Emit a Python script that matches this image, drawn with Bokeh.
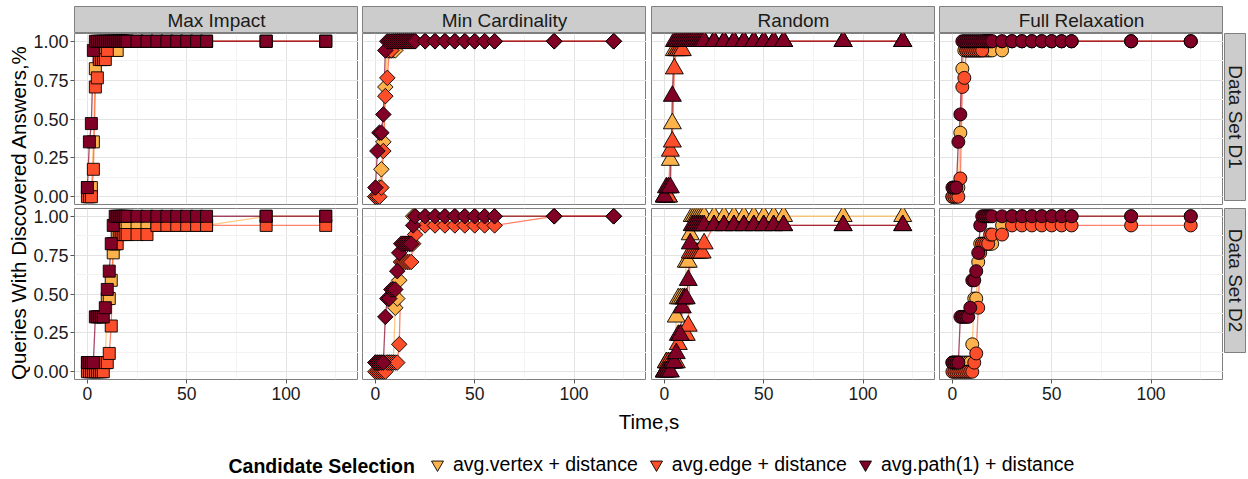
from math import pi, nan
from bokeh.plotting import figure
from bokeh.layouts import row, column
from bokeh.models import (Range1d, FixedTicker, Spacer, Label, Legend, LegendItem,
                          ColumnDataSource, PrintfTickFormatter)
from bokeh.embed import file_html
from bokeh.resources import INLINE

# ---------------- data ----------------
N_QUERIES = 17  # fraction = answered queries / 17
times = list(range(0, 21)) + [25, 30, 35, 40, 45, 50, 55, 60, 90, 120]

strategies = ["Max Impact", "Min Cardinality", "Random", "Full Relaxation"]
datasets = ["Data Set D1", "Data Set D2"]
selections = ["avg.vertex + distance", "avg.edge + distance", "avg.path(1) + distance"]
sel_colors = ["#FEB24C", "#FC4E2A", "#800026"]
x_ticks = [0, 50, 100]
y_ticks = [0.0, 0.25, 0.5, 0.75, 1.0]

# answered-query counts per time value (D1)
mi_d1_vertex = [1,1,1,6,14,16,16,16,16,16,16,16,16,16,16,16,17,17,17,17,17, 17,17,17,17,17,17,17,17,17,17]
mi_d1_edge   = [0,0,0,3,12,13,15,15,15,15,16,17,17,17,17,17,17,17,17,17,17, 17,17,17,17,17,17,17,17,17,17]
mi_d1_path   = [1,6,8,16,17,17,17,17,17,17,17,17,17,17,17,17,17,17,17,17,17, 17,17,17,17,17,17,17,17,17,17]

mc_d1_vertex = [0,0,1,3,6,12,16,16,16,16,16,17,17,17,17,17,17,17,17,17,17, 17,17,17,17,17,17,17,17,17,17]
mc_d1_edge   = [0,0,0,1,5,11,13,16,16,17,17,17,17,17,17,17,17,17,17,17,17, 17,17,17,17,17,17,17,17,17,17]
mc_d1_path   = [1,5,7,7,9,16,17,17,17,17,17,17,17,17,17,17,17,17,17,17,17, 17,17,17,17,17,17,17,17,17,17]

ra_d1_vertex = [0,0,0,4,8,16,17,17,17,17,17,17,17,17,17,17,17,17,17,17,17, 17,17,17,17,17,17,17,17,17,17]
ra_d1_edge   = [0,0,0,5,6,14,16,16,16,16,17,17,17,17,17,17,17,17,17,17,17, 17,17,17,17,17,17,17,17,17,17]
ra_d1_path   = [0,1,1,1,11,17,17,17,17,17,17,17,17,17,17,17,17,17,17,17,17, 17,17,17,17,17,17,17,17,17,17]

fr_d1_vertex = [0,1,1,1,7,14,16,16,16,16,16,16,16,16,16,16,16,16,16,16,16, 16,17,17,17,17,17,17,17,17,17]
fr_d1_edge   = [0,0,0,0,2,12,13,16,16,16,16,16,16,16,16,16,17,17,17,17,17, 17,17,17,17,17,17,17,17,17,17]
fr_d1_path   = [1,1,1,6,9,17,17,17,17,17,17,17,17,17,17,17,17,17,17,17,17, 17,17,17,17,17,17,17,17,17,17]

# answered-query counts per time value (D2)
mi_d2_vertex = [1,1,1,1,1,1,1,1,1,1,8,8,10,13,14,15,16,16,16,16,16, 16,16,16,16,16,16,16,16,17,17]
mi_d2_edge   = [0,0,0,0,0,0,0,0,0,1,1,2,5,14,14,14,15,15,15,15,15, 15,15,16,16,16,16,16,16,16,16]
mi_d2_path   = [1,1,1,1,6,6,6,6,6,7,9,11,14,16,17,17,17,17,17,17,17, 17,17,17,17,17,17,17,17,17,17]

mc_d2_vertex = [1,1,1,1,1,1,1,1,1,1,7,8,10,12,14,14,14,14,14,17,17, 17,17,17,17,17,17,17,17,17,17]
mc_d2_edge   = [0,0,0,0,0,0,1,1,1,1,1,1,3,12,12,12,12,12,12,14,15, 16,16,16,16,16,16,16,16,17,17]
mc_d2_path   = [1,1,1,1,1,6,8,8,9,9,9,11,13,14,14,14,14,14,14,16,17, 17,17,17,17,17,17,17,17,17,17]

ra_d2_vertex = [0,1,1,1,1,1,6,8,8,8,8,12,12,15,17,17,17,17,17,17,17, 17,17,17,17,17,17,17,17,17,17]
ra_d2_edge   = [0,1,1,1,1,1,1,3,4,4,4,4,5,13,13,13,13,13,13,13,14, 16,16,16,16,16,16,16,16,16,16]
ra_d2_path   = [0,0,0,0,1,1,2,4,4,7,8,8,10,14,16,16,16,16,16,16,16, 16,16,16,16,16,16,16,16,16,16]

fr_d2_vertex = [1,1,1,1,1,1,1,1,1,1,3,8,8,12,14,14,14,14,14,14,14, 16,17,17,17,17,17,17,17,17,17]
fr_d2_edge   = [0,0,0,0,0,0,0,0,0,0,0,1,2,7,13,14,14,14,14,15,15, 15,16,16,16,16,16,16,16,16,16]
fr_d2_path   = [1,1,1,1,6,6,6,6,6,7,10,10,11,13,16,17,17,17,17,17,17, 17,17,17,17,17,17,17,17,17,17]

panel_data = [
    [[mi_d1_vertex, mi_d1_edge, mi_d1_path], [mc_d1_vertex, mc_d1_edge, mc_d1_path],
     [ra_d1_vertex, ra_d1_edge, ra_d1_path], [fr_d1_vertex, fr_d1_edge, fr_d1_path]],
    [[mi_d2_vertex, mi_d2_edge, mi_d2_path], [mc_d2_vertex, mc_d2_edge, mc_d2_path],
     [ra_d2_vertex, ra_d2_edge, ra_d2_path], [fr_d2_vertex, fr_d2_edge, fr_d2_path]],
]

# ---------------- style ----------------
FONT = "Liberation Sans"
X0, X1 = -6.5, 136.5
Y0, Y1 = -0.05, 1.05
FW, FH = 284, 171
YAX, XAX = 44, 27
ROWGAP = 4
GAPS = [4, 5, 4]
STRIP_FILL, STRIP_LINE = "#CCCCCC", "#7F7F7F"
marker_style = [
    dict(marker="square", size=12, angle=0),
    dict(marker="square", size=11, angle=pi / 4),
    dict(marker="triangle", size=18, angle=0),
    dict(marker="circle", size=13, angle=0),
]


def make_panel(r, c):
    w = FW + (YAX if c == 0 else 0)
    bottom_border = XAX if r == 1 else ROWGAP
    h = FH + bottom_border
    p = figure(width=w, height=h, x_range=Range1d(X0, X1), y_range=Range1d(Y0, Y1),
               output_backend="svg", toolbar_location=None, min_border=0)
    p.min_border_left = YAX if c == 0 else 0
    p.min_border_bottom = bottom_border
    p.outline_line_color = "#7F7F7F"
    p.outline_line_width = 1
    p.background_fill_color = "white"
    p.border_fill_color = "white"

    xt = FixedTicker(ticks=x_ticks, minor_ticks=[25, 75, 125])
    yt = FixedTicker(ticks=y_ticks, minor_ticks=[0.125, 0.375, 0.625, 0.875])
    for ax, tk in ((p.xaxis[0], xt), (p.yaxis[0], yt)):
        ax.ticker = tk
        ax.axis_line_color = None
        ax.major_tick_line_color = "#555555"
        ax.major_tick_in = 0
        ax.major_tick_out = 4
        ax.minor_tick_line_color = None
        ax.major_label_text_font = FONT
        ax.major_label_text_font_size = "17.5px"
        ax.major_label_text_color = "#1A1A1A"
    p.yaxis[0].major_label_text_font_size = "18px"
    p.yaxis[0].formatter = PrintfTickFormatter(format="%.2f")
    p.yaxis[0].major_label_standoff = 2
    p.xaxis[0].major_label_standoff = 3
    p.xaxis[0].visible = (r == 1)
    p.yaxis[0].visible = (c == 0)

    p.xgrid.ticker = xt
    p.ygrid.ticker = yt
    for g in (p.xgrid[0], p.ygrid[0]):
        g.grid_line_color = "#E3E3E3"
        g.grid_line_width = 1
        g.minor_grid_line_color = "#F3F3F3"
        g.minor_grid_line_width = 1

    series = panel_data[r][c]
    sources = []
    for counts in series:
        sources.append(ColumnDataSource(dict(t=times, y=[k / N_QUERIES for k in counts])))
    for src, col in zip(sources, sel_colors):
        p.line(x="t", y="y", source=src, line_color=col, line_width=1.3, line_alpha=0.7)
    ms = marker_style[c]
    for src, col in zip(sources, sel_colors):
        p.scatter(x="t", y="y", source=src, marker=ms["marker"], size=ms["size"],
                  angle=ms["angle"], fill_color=col, line_color="black", line_width=0.9)
    return p


def make_strip(w, h, text, angle=0.0):
    s = figure(width=w, height=h, x_range=Range1d(0, 1), y_range=Range1d(0, 1),
               output_backend="svg", toolbar_location=None, min_border=0,
               x_axis_type=None, y_axis_type=None)
    s.grid.visible = False
    s.background_fill_color = STRIP_FILL
    s.border_fill_color = "white"
    s.outline_line_color = STRIP_LINE
    s.add_layout(Label(x=0.5, y=0.5, text=text, text_align="center", text_baseline="middle",
                       angle=angle, text_font=FONT, text_font_size="19px", text_color="#1A1A1A"))
    return s


# top strips
strip_items = [Spacer(width=YAX, height=27)]
for c, name in enumerate(strategies):
    strip_items.append(make_strip(FW, 27, name))
    if c < 3:
        strip_items.append(Spacer(width=GAPS[c], height=27))
strip_row = row(*strip_items)

panel_rows = []
for r in range(2):
    items = []
    for c in range(4):
        items.append(make_panel(r, c))
        if c < 3:
            items.append(Spacer(width=GAPS[c], height=FH))
    items.append(Spacer(width=1, height=FH))
    items.append(make_strip(22, FH, datasets[r], angle=-pi / 2))
    panel_rows.append(row(*items))

TOP_H = 6 + 27 + FH + ROWGAP + FH + XAX  # 406

# left: y axis title
left = figure(width=30, height=TOP_H, x_range=Range1d(0, 30), y_range=Range1d(-TOP_H, 0),
              output_backend="svg", toolbar_location=None, min_border=0,
              x_axis_type=None, y_axis_type=None)
left.grid.visible = False
left.outline_line_color = None
left.add_layout(Label(x=18, y=-212, text="Queries With Discovered Answers,%", angle=pi / 2,
                      text_align="center", text_baseline="middle", text_font=FONT,
                      text_font_size="20.5px", text_color="black"))

# bottom: x axis title + legend
bottom = figure(width=1248, height=479 - TOP_H, x_range=Range1d(0, 1248),
                y_range=Range1d(-479, -TOP_H),
                output_backend="svg", toolbar_location=None, min_border=0,
                x_axis_type=None, y_axis_type=None)
bottom.grid.visible = False
bottom.outline_line_color = None
bottom.add_layout(Label(x=648.5, y=-421, text="Time,s", text_align="center", text_baseline="middle",
                        text_font=FONT, text_font_size="20.5px", text_color="black"))
bottom.add_layout(Label(x=228, y=-465, text="Candidate Selection", text_align="left",
                        text_baseline="middle", text_font=FONT, text_font_size="19.5px",
                        text_font_style="bold", text_color="black"))
items = []
for lab, col in zip(selections, sel_colors):
    rr = bottom.scatter(x=[nan], y=[nan], marker="inverted_triangle", size=14,
                        fill_color=col, line_color="black", line_width=0.9)
    items.append(LegendItem(label=lab, renderers=[rr]))
leg = Legend(items=items, orientation="horizontal", location=(422, 0), padding=0, margin=0,
             spacing=3, glyph_width=30, glyph_height=30, label_standoff=1,
             border_line_color=None, background_fill_alpha=0,
             label_text_font=FONT, label_text_font_size="19.5px", label_text_color="black")
bottom.add_layout(leg)

layout = column(
    row(left, column(Spacer(width=1216, height=6), strip_row, panel_rows[0], panel_rows[1])),
    bottom,
)

open("out.html", "w").write(file_html(layout, INLINE))
